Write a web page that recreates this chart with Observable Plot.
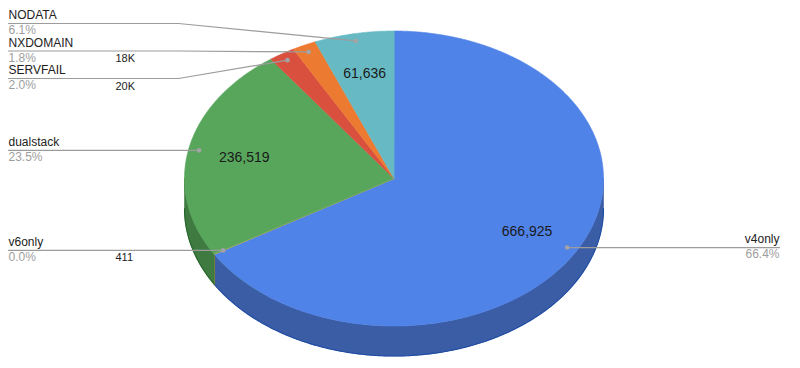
<!DOCTYPE html>
<html><head><meta charset="utf-8">
<script src="https://cdn.jsdelivr.net/npm/d3@7"></script>
<script src="https://cdn.jsdelivr.net/npm/@observablehq/plot@0.6"></script>
<style>html,body{margin:0;padding:0;background:#fff;}</style>
</head><body><div id="chart"></div>
<script>
// ---- data ----
const categories = ["v4only", "v6only", "dualstack", "SERVFAIL", "NXDOMAIN", "NODATA"];
const values = [666925, 411, 236519, 20400, 18450, 61636];
// ---- palette ----
const topColors  = ["#5083E8", "#F2B92B", "#58A65C", "#D9503F", "#EC7A31", "#67BAC4"];
const sideColors = ["#3B5DA6", "#B08620", "#3F7B41", "#9C3A2E", "#AA5823", "#4A868E"];
const edgeColors = ["#1E4BA3", "#8A6A18", "#23652A", "#7D2A20", "#86431A", "#346A70"];

// ---- layout ----
const W = 800, H = 368;
const CX = 393.5, CY = 178, RX = 209.5, RY = 147.5, DEPTH = 30;
const depth = DEPTH / RY;            // in pie units
const ux = px => (px - CX) / RX;     // pixel column -> pie units
const uy = py => (py - CY) / RY;

const total = d3.sum(values);
const slices = [];
let acc = 0;
categories.forEach((c, i) => {
  const a0 = acc / total * 2 * Math.PI;
  acc += values[i];
  const a1 = acc / total * 2 * Math.PI;
  slices.push({i, name: c, value: values[i], a0, a1, mid: (a0 + a1) / 2, share: values[i] / total});
});

function arc(a0, a1, dz) {
  const n = Math.max(2, Math.ceil(Math.abs(a1 - a0) / (Math.PI / 360)));
  const pts = [];
  for (let k = 0; k <= n; k++) {
    const a = a0 + (a1 - a0) * k / n;
    pts.push({x: Math.sin(a), y: -Math.cos(a) + dz});
  }
  return pts;
}

const marks = [];
// side walls (front half only)
slices.forEach(s => {
  const a = Math.max(s.a0, Math.PI / 2), b = Math.min(s.a1, 3 * Math.PI / 2);
  if (b > a) {
    const poly = arc(a, b, 0).concat(arc(b, a, depth));
    marks.push(Plot.line(poly, {x: "x", y: "y", curve: "linear-closed", fill: sideColors[s.i], stroke: sideColors[s.i], strokeWidth: 0.6}));
    marks.push(Plot.line(arc(a, b, depth), {x: "x", y: "y", stroke: edgeColors[s.i], strokeWidth: 1.1}));
  }
});
// left outer edge of the wall
marks.push(Plot.line(arc(3 * Math.PI / 2 - 0.9, 3 * Math.PI / 2, 0), {x: "x", y: "y", stroke: "#2F7A33", strokeWidth: 0.8, strokeOpacity: 0.6}));
// top faces
slices.forEach(s => {
  const poly = [{x: 0, y: 0}].concat(arc(s.a0, s.a1, 0));
  marks.push(Plot.line(poly, {x: "x", y: "y", curve: "linear-closed", fill: topColors[s.i], stroke: topColors[s.i], strokeWidth: 0.6}));
});

// ---- labels ----
const GAP = 27.5 / RY;
const fmtPct = d3.format(".1%");
const fmtBig = d3.format(",");
const fmtSmall = v => v >= 1000 ? Math.round(v / 1000) + "K" : String(v);

const labels = slices.map(s => ({
  ...s,
  dx: 0.95 * Math.sin(s.mid), dy: 0.95 * -Math.cos(s.mid),
  left: Math.sin(s.mid) < 0
}));

function resolve(items) {
  items.sort((a, b) => a.dy - b.dy);
  let groups = items.map(d => ({items: [d]}));
  const place = g => {
    const c = d3.mean(g.items, d => d.dy);
    g.items.forEach((d, k) => d.ly = c + (k - (g.items.length - 1) / 2) * GAP);
  };
  groups.forEach(place);
  let changed = true;
  while (changed) {
    changed = false;
    for (let k = 0; k < groups.length - 1; k++) {
      const g1 = groups[k], g2 = groups[k + 1];
      if (g2.items[0].ly - g1.items[g1.items.length - 1].ly < GAP) {
        const g = {items: g1.items.concat(g2.items)};
        place(g);
        groups.splice(k, 2, g);
        changed = true;
        break;
      }
    }
  }
}
const leftL = labels.filter(d => d.left), rightL = labels.filter(d => !d.left);
resolve(leftL); resolve(rightL);

const XL = ux(8), XLB = ux(178), XR = ux(779), XRB = ux(609), XV = ux(115);
const leaders = [];
leftL.forEach(d => leaders.push(
  {id: d.name, x: XL, y: d.ly}, {id: d.name, x: XLB, y: d.ly}, {id: d.name, x: d.dx, y: d.dy}));
rightL.forEach(d => leaders.push(
  {id: d.name, x: XR, y: d.ly}, {id: d.name, x: XRB, y: d.ly}, {id: d.name, x: d.dx, y: d.dy}));

marks.push(Plot.line(leaders, {x: "x", y: "y", z: "id", stroke: "#9c9c9c", strokeWidth: 1.2}));
marks.push(Plot.dot(labels, {x: "dx", y: "dy", r: 2.3, fill: "#a3a3a3", stroke: "none"}));

const font = "Liberation Sans, Arial, Helvetica, sans-serif";
marks.push(Plot.text(leftL, {x: () => XL, y: "ly", text: "name", textAnchor: "start",
  lineAnchor: "bottom", dy: -4.3, fontSize: 12, fill: "#222", fontFamily: font}));
marks.push(Plot.text(rightL, {x: () => XR, y: "ly", text: "name", textAnchor: "end",
  lineAnchor: "bottom", dy: -4.3, fontSize: 12, fill: "#222", fontFamily: font}));
marks.push(Plot.text(leftL, {x: () => XL, y: "ly", text: d => fmtPct(d.share), textAnchor: "start",
  lineAnchor: "bottom", dy: 10.8, fontSize: 12, fill: "#9e9e9e", fontFamily: font}));
marks.push(Plot.text(rightL, {x: () => XR, y: "ly", text: d => fmtPct(d.share), textAnchor: "end",
  lineAnchor: "bottom", dy: 10.5, fontSize: 12, fill: "#9e9e9e", fontFamily: font}));
// small slices: value next to the percentage
marks.push(Plot.text(leftL.filter(d => d.share < 0.05), {x: () => XV, y: "ly", text: d => fmtSmall(d.value), textAnchor: "start",
  lineAnchor: "bottom", dy: 11, fontSize: 11, fill: "#222", fontFamily: font}));
// big slices: value inside
marks.push(Plot.text(slices.filter(d => d.share >= 0.05), {
  x: d => 0.73 * Math.sin(d.mid), y: d => 0.73 * -Math.cos(d.mid), text: d => fmtBig(d.value),
  textAnchor: "middle", lineAnchor: "bottom", dy: 4.8, fontSize: 14, fill: "#1a1a1a", fontFamily: font}));

const chart = Plot.plot({
  width: W, height: H,
  margin: 0,
  style: {fontFamily: font, background: "#fff"},
  x: {domain: [ux(0), ux(W)], range: [0, W], axis: null},
  y: {domain: [uy(0), uy(H)], range: [0, H], axis: null},
  marks
});
document.getElementById("chart").append(chart);
</script>
</body></html>
